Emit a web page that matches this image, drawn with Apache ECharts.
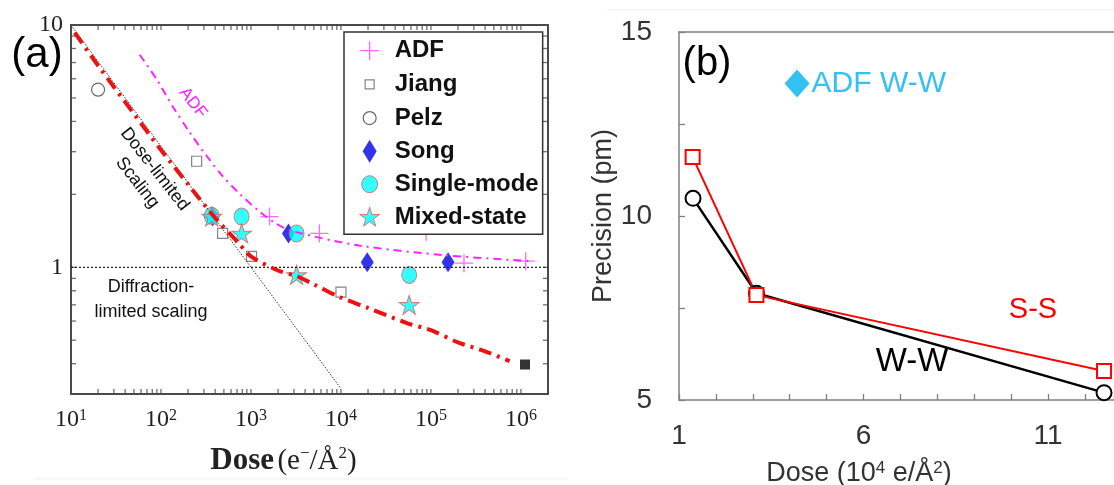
<!DOCTYPE html>
<html><head><meta charset="utf-8">
<script src="https://cdn.jsdelivr.net/npm/echarts@6/dist/echarts.min.js"></script>
<style>html,body{margin:0;padding:0;background:#fff}#c{width:1114px;height:485px}</style>
</head><body><div id="c"></div>
<script>
// ===== Panel (a) data (log-log) =====
const adfX = [1607, 5760, 88500, 233000, 1130000];
const adfY = [1.62, 1.38, 1.40, 1.04, 1.06];
const jiangX = [249, 484, 1015, 10000];
const jiangY = [2.74, 1.38, 1.11, 0.79];
const pelzX = [20];
const pelzY = [5.41];
const songX = [375, 2610, 19600, 155000];
const songY = [1.62, 1.38, 1.05, 1.05];
const singleX = [366, 787, 3210, 57300];
const singleY = [1.63, 1.62, 1.38, 0.93];
const mixedX = [366, 787, 3210, 57300];
const mixedY = [1.62, 1.38, 0.93, 0.70];
const endX = [1110000];
const endY = [0.397];
// fitted curves
const fitRedX = [11, 20, 50, 100, 200, 400, 700, 1000, 2000, 3200, 5000, 10000, 20000, 53000, 100000, 200000, 400000, 750000];
const fitRedY = [9.3, 6.8, 4.3, 3.05, 2.2, 1.6, 1.28, 1.11, 0.97, 0.92, 0.85, 0.75, 0.68, 0.59, 0.55, 0.49, 0.45, 0.41];
const fitAdfX = [58, 90, 135, 208, 322, 484, 748, 1245, 1923, 2891, 16000, 150000, 1300000];
const fitAdfY = [7.54, 5.95, 4.61, 3.61, 2.88, 2.38, 2.01, 1.70, 1.51, 1.41, 1.23, 1.12, 1.06];
const doseLimX = [10, 1000, 10000];
const doseLimY = [10, 1, 0.316];
const diffLimX = [10, 2000000];
const diffLimY = [1, 1];
// axis range, tick labels and tick positions (a)
const xMinA = 10, xMaxA = 2000000, yMinA = 0.3, yMaxA = 10;
const xLabelsA = [10, 100, 1000, 10000, 100000, 1000000];
const yLabelsA = [1, 10];
const mantissas = [1, 2, 3, 4, 5, 6, 7, 8, 9];
const xTicksA = [];
xLabelsA.forEach(d => mantissas.forEach(m => { if (m * d > xMinA && m * d < xMaxA) xTicksA.push(m * d); }));
const yTicksA = [0.4, 0.5, 0.6, 0.7, 0.8, 0.9, 1, 2, 3, 4, 5, 6, 7, 8, 9];

// ===== Panel (b) data =====
const wwX = [1.38, 3.10, 12.52];
const wwY = [10.48, 7.90, 5.20];
const ssX = [1.37, 3.10, 12.52];
const ssY = [11.60, 7.85, 5.79];
const adfWWX = [4.2];
const adfWWY = [13.6];
const xLabelsB = [1, 6, 11];
const yLabelsB = [5, 10, 15];

const zip = (xs, ys) => xs.map((x, i) => [x, ys[i]]);
const SERIF = "'Liberation Serif','DejaVu Serif',serif";
const SANS = "'Liberation Sans',Arial,sans-serif";
const FRAME = '#4a4a4a';
const GRAYB = '#808080';

const STAR = 'path://M12,1.5L14.35,8.76L21.99,8.76L15.8,13.24L18.17,20.49L12,16L5.83,20.49L8.2,13.24L2.01,8.76L9.65,8.76Z';
const PLUS = 'path://M0,10L20,10M10,0L10,20';
const DIAM = 'path://M0,-13L8,0L0,13L-8,0Z';
const PAD = 'path://M0,0M24,24';
const legIcons = {
  'ADF': PAD + 'M2.5,12L21.5,12M12,2.5L12,21.5',
  'Jiang': PAD + 'M7.5,7.5L16.5,7.5L16.5,16.5L7.5,16.5Z',
  'Pelz': PAD + 'M5.5,12A6.5,6.5,0,1,1,18.5,12A6.5,6.5,0,1,1,5.5,12Z',
  'Song': PAD + 'M12,0.5L19,12L12,23.5L5,12Z',
  'Single-mode': PAD + 'M4,12A8,8.5,0,1,1,20,12A8,8.5,0,1,1,4,12Z',
  'Mixed-state': PAD + 'M12,1.5L14.35,8.76L21.99,8.76L15.8,13.24L18.17,20.49L12,16L5.83,20.49L8.2,13.24L2.01,8.76L9.65,8.76Z'
};
const legBorder = {'ADF': 1.3, 'Jiang': 1.2, 'Pelz': 1.2, 'Song': 0, 'Single-mode': 1, 'Mixed-state': 1};

function logAxisX(pos, showLabel) {
  return {
    type: 'log', logBase: 10, gridIndex: 0, position: pos, min: xMinA, max: xMaxA,
    axisLine: {show: true, onZero: false, lineStyle: {color: FRAME, width: 2}},
    axisTick: {show: false},
    splitLine: {show: false}, minorTick: {show: false},
    axisLabel: showLabel ? {
      show: true, customValues: xLabelsA, margin: 14,
      formatter: v => '{b|10}{s|' + Math.round(Math.log10(v)) + '}',
      rich: {
        b: {fontFamily: SERIF, fontSize: 24, color: '#222', lineHeight: 24},
        s: {fontFamily: SERIF, fontSize: 16, color: '#222', verticalAlign: 'top', lineHeight: 15}
      }
    } : {show: false}
  };
}
function logAxisY(pos, showLabel) {
  return {
    type: 'log', logBase: 10, gridIndex: 0, position: pos, min: yMinA, max: yMaxA,
    axisLine: {show: true, onZero: false, lineStyle: {color: FRAME, width: 2}},
    axisTick: {show: false},
    splitLine: {show: false}, minorTick: {show: false},
    axisLabel: showLabel ? {
      show: true, customValues: yLabelsA, margin: 8,
      fontFamily: SERIF, fontSize: 24, color: '#222',
      formatter: v => String(Math.round(v))
    } : {show: false}
  };
}
// inward tick marks of the log frame, placed through the axes
function tickSeries(data, size, offset) {
  return {type: 'scatter', xAxisIndex: 0, yAxisIndex: 0, data: data, symbol: 'rect',
    symbolSize: size, symbolOffset: offset, clip: false, silent: true, z: 1,
    itemStyle: {color: FRAME}};
}

const option = {
  animation: false,
  backgroundColor: '#fff',
  grid: [
    {left: 71, top: 25, width: 477, height: 369, containLabel: false, outerBoundsMode: 'none'},
    {left: 679, top: 32, width: 435, height: 368, containLabel: false, outerBoundsMode: 'none'}
  ],
  xAxis: [
    Object.assign(logAxisX('bottom', true), {
      name: '{b|Dose} {n|(e}{s|−}{n|/Å}{s|2}{n|)}',
      nameLocation: 'middle', nameGap: 51,
      nameTextStyle: {
        padding: [0, 52, 0, 0],
        rich: {
          b: {fontFamily: SERIF, fontSize: 31, fontWeight: 'bold', color: '#222', lineHeight: 32},
          n: {fontFamily: SERIF, fontSize: 29, color: '#222', lineHeight: 32},
          s: {fontFamily: SERIF, fontSize: 17, color: '#222', verticalAlign: 'top', lineHeight: 17}
        }
      }
    }),
    logAxisX('top', false),
    {
      type: 'value', gridIndex: 1, position: 'bottom', min: 1, max: 12.79, interval: 1,
      axisLine: {show: true, onZero: false, lineStyle: {color: GRAYB, width: 1.5}},
      axisTick: {show: true, inside: true, length: 6, lineStyle: {color: GRAYB, width: 1.3}},
      splitLine: {show: false},
      axisLabel: {show: true, customValues: xLabelsB, margin: 22, fontFamily: SANS, fontSize: 28, color: '#333'},
      name: '{n|Dose (10}{s|4}{n| e/Å}{s|2}{n|)}',
      nameLocation: 'middle', nameGap: 60,
      nameTextStyle: {
        padding: [0, 75, 0, 0],
        rich: {
          n: {fontFamily: SANS, fontSize: 27, color: '#333', lineHeight: 28},
          s: {fontFamily: SANS, fontSize: 17, color: '#333', verticalAlign: 'top', lineHeight: 16}
        }
      }
    },
    {
      type: 'value', gridIndex: 1, position: 'top', min: 1, max: 12.79,
      axisLine: {show: true, onZero: false, lineStyle: {color: GRAYB, width: 1.5}},
      axisTick: {show: false}, axisLabel: {show: false}, splitLine: {show: false}
    }
  ],
  yAxis: [
    logAxisY('left', true),
    logAxisY('right', false),
    {
      type: 'value', gridIndex: 1, position: 'left', min: 5, max: 15, interval: 2.5,
      axisLine: {show: true, onZero: false, lineStyle: {color: GRAYB, width: 1.5}},
      axisTick: {show: true, inside: true, length: 6, lineStyle: {color: GRAYB, width: 1.3}},
      splitLine: {show: false},
      axisLabel: {show: true, customValues: yLabelsB, margin: 27, fontFamily: SANS, fontSize: 28, color: '#333'},
      name: 'Precision (pm)', nameLocation: 'middle', nameGap: 62,
      nameTextStyle: {fontFamily: SANS, fontSize: 27, color: '#333'}
    }
  ],
  legend: {
    orient: 'vertical', left: 344, top: 32,
    padding: [6, 4, 4, 13], itemGap: 8.5, itemWidth: 30, itemHeight: 24,
    borderColor: '#333', borderWidth: 1.5, backgroundColor: '#fff',
    selectedMode: false,
    textStyle: {fontFamily: SANS, fontWeight: 'bold', fontSize: 24, color: '#111', padding: [0, 0, 0, 5]},
    data: ['ADF', 'Jiang', 'Pelz', 'Song', 'Single-mode', 'Mixed-state'].map(n => ({
      name: n, icon: legIcons[n], itemStyle: {borderWidth: legBorder[n]}
    }))
  },
  graphic: [
    {type: 'line', silent: true, shape: {x1: 607, y1: 10, x2: 1114, y2: 10}, style: {stroke: '#ececec', lineWidth: 1}},
    {type: 'line', silent: true, shape: {x1: 33, y1: 479, x2: 568, y2: 479}, style: {stroke: '#efefef', lineWidth: 1}},
    {type: 'text', x: 37, y: 55, style: {text: '(a)', fontFamily: SANS, fontSize: 42, fill: '#000', align: 'center', verticalAlign: 'middle'}},
    {type: 'text', x: 146, y: 176, rotation: -52 * Math.PI / 180,
      style: {text: 'Dose-limited\nScaling', fontFamily: SANS, fontSize: 18, lineHeight: 22, fill: '#111', align: 'center', verticalAlign: 'middle'}},
    {type: 'text', x: 151, y: 300, style: {text: 'Diffraction-\nlimited scaling', fontFamily: SANS, fontSize: 18, lineHeight: 25, fill: '#111', align: 'center', verticalAlign: 'middle'}},
    {type: 'text', x: 193, y: 103, rotation: -52 * Math.PI / 180,
      style: {text: 'ADF', fontFamily: SANS, fontSize: 17, fill: '#ff22ff', align: 'center', verticalAlign: 'middle'}},
    {type: 'text', x: 707, y: 64, style: {text: '(b)', fontFamily: SANS, fontSize: 40, fill: '#000', align: 'center', verticalAlign: 'middle'}},
    {type: 'text', x: 1033, y: 310, style: {text: 'S-S', fontFamily: SANS, fontSize: 29, fill: '#ff0000', align: 'center', verticalAlign: 'middle'}},
    {type: 'text', x: 912, y: 362, style: {text: 'W-W', fontFamily: SANS, fontSize: 33, fill: '#000', align: 'center', verticalAlign: 'middle'}}
  ],
  series: [
    tickSeries(xTicksA.map(v => [v, yMinA]), [1.3, 5], [0, -2.5]),
    tickSeries(xTicksA.map(v => [v, yMaxA]), [1.3, 5], [0, 2.5]),
    tickSeries(yTicksA.map(v => [xMinA, v]), [5, 1.3], [2.5, 0]),
    tickSeries(yTicksA.map(v => [xMaxA, v]), [5, 1.3], [-2.5, 0]),
    {name: 'diffLim', type: 'line', xAxisIndex: 0, yAxisIndex: 0, data: zip(diffLimX, diffLimY), showSymbol: false, silent: true,
      lineStyle: {color: '#222', width: 1.3, type: [2, 2]}},
    {name: 'doseLim', type: 'line', xAxisIndex: 0, yAxisIndex: 0, data: zip(doseLimX, doseLimY), showSymbol: false, silent: true,
      lineStyle: {color: '#333', width: 1, type: [1.5, 1.5]}},
    {name: 'fitADF', type: 'line', xAxisIndex: 0, yAxisIndex: 0, data: zip(fitAdfX, fitAdfY), showSymbol: false, silent: true, smooth: 0.3,
      lineStyle: {color: '#ff22ff', width: 2, type: [8, 5, 2, 5]}},
    {name: 'fitRed', type: 'line', xAxisIndex: 0, yAxisIndex: 0, data: zip(fitRedX, fitRedY), showSymbol: false, silent: true, smooth: 0.3,
      lineStyle: {color: '#ee1111', width: 4, type: [13, 6, 3, 6]}},
    {name: 'ADF', type: 'scatter', xAxisIndex: 0, yAxisIndex: 0, data: zip(adfX, adfY), symbol: PLUS, symbolSize: 18,
      itemStyle: {color: 'rgba(0,0,0,0)', borderColor: '#ff44ff', borderWidth: 1.3}},
    {name: 'Jiang', type: 'scatter', xAxisIndex: 0, yAxisIndex: 0, data: zip(jiangX, jiangY), symbol: 'rect', symbolSize: 10,
      itemStyle: {color: '#fff', borderColor: '#666', borderWidth: 1.2}},
    {name: 'Pelz', type: 'scatter', xAxisIndex: 0, yAxisIndex: 0, data: zip(pelzX, pelzY), symbol: 'circle', symbolSize: 13,
      itemStyle: {color: '#fff', borderColor: '#444', borderWidth: 1.2}},
    {name: 'Song', type: 'scatter', xAxisIndex: 0, yAxisIndex: 0, data: zip(songX, songY), symbol: DIAM, symbolSize: [13, 20],
      itemStyle: {color: '#0000e6', borderColor: '#0000e6', borderWidth: 0}},
    {name: 'Single-mode', type: 'scatter', xAxisIndex: 0, yAxisIndex: 0, data: zip(singleX, singleY), symbol: 'circle', symbolSize: [15, 17],
      itemStyle: {color: '#00ffff', borderColor: '#e05a5a', borderWidth: 1}},
    {name: 'Mixed-state', type: 'scatter', xAxisIndex: 0, yAxisIndex: 0, data: zip(mixedX, mixedY), symbol: STAR, symbolSize: [20, 19],
      itemStyle: {color: '#00ffff', borderColor: '#e05a5a', borderWidth: 1}},
    {name: 'end', type: 'scatter', xAxisIndex: 0, yAxisIndex: 0, data: zip(endX, endY), symbol: 'rect', symbolSize: 10,
      itemStyle: {color: '#000'}},
    // panel (b)
    {name: 'W-W', type: 'line', xAxisIndex: 2, yAxisIndex: 2, data: zip(wwX, wwY), symbol: 'emptyCircle', symbolSize: 15,
      lineStyle: {color: '#000', width: 2.5}, itemStyle: {color: '#000', borderColor: '#000', borderWidth: 2.5}},
    {name: 'S-S', type: 'line', xAxisIndex: 2, yAxisIndex: 2, data: zip(ssX, ssY), symbol: 'emptyRect', symbolSize: 14,
      lineStyle: {color: '#ff0000', width: 2}, itemStyle: {color: '#ff0000', borderColor: '#ff0000', borderWidth: 2}},
    {name: 'ADF W-W', type: 'scatter', xAxisIndex: 2, yAxisIndex: 2, data: zip(adfWWX, adfWWY), symbol: 'diamond', symbolSize: [25, 28],
      itemStyle: {color: '#00b0f0'},
      label: {show: true, position: 'right', distance: 2, formatter: 'ADF W-W', fontFamily: SANS, fontSize: 30, color: '#00b0f0'}}
  ]
};
const chart = echarts.init(document.getElementById('c'));
chart.setOption(option);
</script>
</body></html>
